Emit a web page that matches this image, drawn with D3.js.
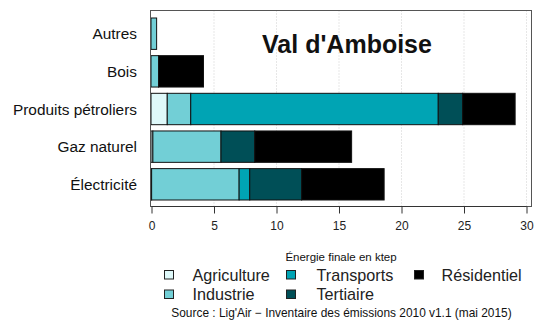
<!DOCTYPE html>
<html>
<head>
<meta charset="utf-8">
<script src="https://cdn.jsdelivr.net/npm/d3@7"></script>
<style>
  html, body { margin: 0; padding: 0; background: #fff; }
  svg { display: block; }
  text { font-family: "Liberation Sans", Arial, sans-serif; }
</style>
</head>
<body>
<svg id="chart" width="534" height="324"></svg>
<script>
// Énergie finale par source et par secteur (ktep)
const categories = ["Autres", "Bois", "Produits pétroliers", "Gaz naturel", "Électricité"];
const sectors = ["Agriculture", "Industrie", "Transports", "Tertiaire", "Résidentiel"];
const agriculture = [0,    0,   1.3,  0.15, 0.05];
const industrie   = [0.45, 0.6, 1.88, 5.45, 7.0];
const transports  = [0,    0,   19.8, 0,    0.85];
const tertiaire   = [0,    0,   1.95, 2.7,  4.15];
const residentiel = [0,    3.6, 4.2,  7.75, 6.6];
const xTicks = [0, 5, 10, 15, 20, 25, 30];
const colors = ["#dff9fa", "#72cfd6", "#00a4b4", "#004f57", "#000000"];

const seriesValues = [agriculture, industrie, transports, tertiaire, residentiel];
const rows = categories.map((c, i) => {
  const r = { cat: c };
  sectors.forEach((s, k) => { r[s] = seriesValues[k][i]; });
  return r;
});

const svg = d3.select("#chart");
const box = { left: 150.5, right: 531.5, top: 10.5, bottom: 206.5 };

const x = d3.scaleLinear().domain([0, 30]).range([151, 526]);
const y = d3.scaleBand().domain(categories).range([18, 200])
  .paddingInner(0.2 / 1.2).paddingOuter(0);

// dotted vertical grid
svg.append("g").selectAll("line")
  .data(xTicks.filter(t => t > 0))
  .join("line")
  .attr("x1", d => x(d) + 0.5).attr("x2", d => x(d) + 0.5)
  .attr("y1", box.top).attr("y2", box.bottom)
  .attr("stroke", "#cfcfcf").attr("stroke-width", 1)
  .attr("stroke-dasharray", "1,2");

// stacked bars
const stack = d3.stack().keys(sectors)(rows);
svg.append("g").selectAll("g")
  .data(stack)
  .join("g")
  .attr("fill", (d, i) => colors[i])
  .selectAll("rect")
  .data(d => d.filter(p => p[1] - p[0] > 0))
  .join("rect")
  .attr("x", d => x(d[0]))
  .attr("y", d => y(d.data.cat))
  .attr("width", d => x(d[1]) - x(d[0]))
  .attr("height", y.bandwidth())
  .attr("stroke", "#111").attr("stroke-width", 1);

// plot frame
svg.append("rect")
  .attr("x", box.left).attr("y", box.top)
  .attr("width", box.right - box.left).attr("height", box.bottom - box.top)
  .attr("fill", "none").attr("stroke", "#555").attr("stroke-width", 1);

// category labels
svg.append("g").selectAll("text")
  .data(categories)
  .join("text")
  .attr("x", 137)
  .attr("y", d => y(d) + y.bandwidth() / 2)
  .attr("dy", "0.36em")
  .attr("text-anchor", "end")
  .attr("font-size", 15.4)
  .attr("fill", "#111")
  .text(d => d);

// x axis
const axis = svg.append("g")
  .attr("transform", `translate(0.5,${box.bottom})`)
  .call(d3.axisBottom(x).tickValues(xTicks).tickSize(7).tickPadding(8).tickFormat(d3.format("d")));
axis.select(".domain").attr("stroke", "#333").attr("d", `M${x(0)},0H${x(30)}`);
axis.selectAll(".tick line").attr("stroke", "#333");
axis.selectAll(".tick text")
  .attr("font-family", "Liberation Sans, Arial, sans-serif")
  .attr("font-size", 12).attr("fill", "#222");

// title
svg.append("text")
  .attr("x", 347).attr("y", 53)
  .attr("text-anchor", "middle")
  .attr("font-family", "Lato, 'Open Sans', sans-serif")
  .attr("font-weight", "bold")
  .attr("font-size", 25)
  .attr("fill", "#111")
  .text("Val d'Amboise");

// axis title
svg.append("text")
  .attr("x", 341).attr("y", 260.5)
  .attr("text-anchor", "middle")
  .attr("font-size", 11.5).attr("fill", "#111")
  .text("Énergie finale en ktep");

// legend
const legendPos = [
  { sq: 164, tx: 192.5, cy: 275 },
  { sq: 164, tx: 192.5, cy: 294.5 },
  { sq: 286, tx: 316.5, cy: 275 },
  { sq: 286, tx: 316.5, cy: 294.5 },
  { sq: 414, tx: 441.5, cy: 275 }
];
const legend = svg.append("g").selectAll("g")
  .data(sectors)
  .join("g");
legend.append("rect")
  .attr("x", (d, i) => legendPos[i].sq + 0.5)
  .attr("y", (d, i) => legendPos[i].cy - 4.5)
  .attr("width", 9).attr("height", 8.5)
  .attr("fill", (d, i) => colors[i])
  .attr("stroke", "#222").attr("stroke-width", 1);
legend.append("text")
  .attr("x", (d, i) => legendPos[i].tx)
  .attr("y", (d, i) => legendPos[i].cy)
  .attr("dy", "0.36em")
  .attr("font-size", 16.2).attr("fill", "#222")
  .text(d => d);

// source
svg.append("text")
  .attr("x", 341.5).attr("y", 316.5)
  .attr("text-anchor", "middle")
  .attr("font-size", 11.9).attr("fill", "#111")
  .text("Source : Lig'Air \u2212 Inventaire des émissions 2010 v1.1 (mai 2015)");
</script>
</body>
</html>
